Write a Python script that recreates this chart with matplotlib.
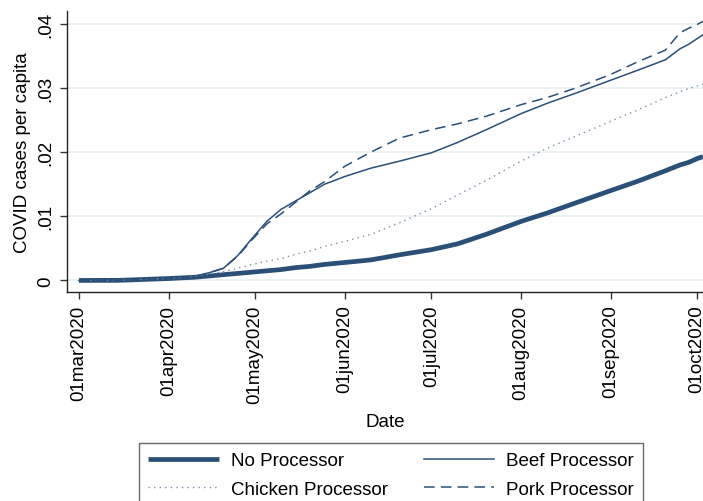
import matplotlib
matplotlib.use("Agg")
import matplotlib.pyplot as plt
import pandas as pd

plt.rcParams["font.family"] = ["Liberation Sans", "DejaVu Sans"]

# values
dates = [
    "2020-03-01", "2020-03-15", "2020-04-01", "2020-04-10", "2020-04-15",
    "2020-04-20", "2020-04-25", "2020-04-30", "2020-05-05", "2020-05-10",
    "2020-05-15", "2020-05-20", "2020-05-25", "2020-06-01", "2020-06-10",
    "2020-06-20", "2020-07-01", "2020-07-10", "2020-07-20", "2020-08-01",
    "2020-08-10", "2020-08-20", "2020-09-01", "2020-09-10", "2020-09-20",
    "2020-09-25", "2020-09-28", "2020-10-01", "2020-10-03",
]
no_processor = [
    0, 0.00002, 0.0003, 0.0005, 0.0007, 0.0009, 0.0011, 0.0013, 0.0015, 0.0017,
    0.0020, 0.0022, 0.0025, 0.0028, 0.0032, 0.0040, 0.0048, 0.0057, 0.0072, 0.0092,
    0.0105, 0.0121, 0.0140, 0.0154, 0.0171, 0.0180, 0.0184, 0.0190, 0.0193,
]
chicken = [
    0, 0.00002, 0.0003, 0.0006, 0.0010, 0.0014, 0.0019, 0.0025, 0.0030, 0.0034,
    0.0041, 0.0046, 0.0053, 0.0061, 0.0072, 0.0090, 0.0112, 0.0133, 0.0156, 0.0186,
    0.0206, 0.0225, 0.0248, 0.0265, 0.0285, 0.0294, 0.0299, 0.0303, 0.0306,
]
beef = [
    0, 0.00002, 0.0003, 0.0006, 0.0012, 0.0019, 0.0039, 0.0066, 0.0092, 0.0111,
    0.0124, 0.0137, 0.0150, 0.0162, 0.0175, 0.0186, 0.0199, 0.0215, 0.0235, 0.0260,
    0.0276, 0.0292, 0.0312, 0.0327, 0.0344, 0.0361, 0.0368, 0.0377, 0.0383,
]
pork = [
    0, 0.00002, 0.0003, 0.0006, 0.0012, 0.0019, 0.0038, 0.0064, 0.0088, 0.0104,
    0.0122, 0.0140, 0.0154, 0.0178, 0.0200, 0.0222, 0.0235, 0.0244, 0.0256, 0.0274,
    0.0285, 0.0300, 0.0321, 0.0340, 0.0359, 0.0386, 0.0393, 0.0399, 0.0404,
]
tick_dates = [
    "2020-03-01", "2020-04-01", "2020-05-01", "2020-06-01",
    "2020-07-01", "2020-08-01", "2020-09-01", "2020-10-01",
]
tick_labels = [
    "01mar2020", "01apr2020", "01may2020", "01jun2020",
    "01jul2020", "01aug2020", "01sep2020", "01oct2020",
]
y_ticks = [0, 0.01, 0.02, 0.03, 0.04]
y_labels = ["0", ".01", ".02", ".03", ".04"]

NAVY = "#2a5077"

x = pd.to_datetime(dates)

fig = plt.figure(figsize=(7.03, 5.02), dpi=100)
ax = fig.add_axes([67 / 703, 1 - 293 / 502, 1 - 67 / 703, (293 - 12) / 502])

for yt in y_ticks:
    ax.axhline(yt, color="#e8f0f0", lw=1.2, zorder=0)

ax.plot(x, no_processor, color=NAVY, lw=3.4, label="No Processor", solid_capstyle="butt")
ax.plot(x, beef, color=NAVY, lw=1.1, label="Beef Processor")
ax.plot(x, chicken, color="#7890ae", lw=1.0, linestyle=(0, (1, 3)),
        label="Chicken Processor")
ax.plot(x, pork, color=NAVY, lw=1.1, linestyle=(0, (7, 4)), label="Pork Processor")

ax.set_xlim(pd.Timestamp("2020-03-01") - pd.Timedelta(days=4.15),
            pd.Timestamp("2020-10-03"))
ax.set_ylim(-0.0018, 0.0420)

ax.set_xticks(pd.to_datetime(tick_dates))
ax.set_xticklabels(tick_labels, rotation=90, fontsize=13.5)
ax.set_yticks(y_ticks)
ax.set_yticklabels(y_labels, rotation=90, va="center", fontsize=13.5)
ax.tick_params(direction="out", length=5, width=1, color="#333333", pad=4)

ax.set_xlabel("Date", fontsize=13.5, labelpad=7)
ax.set_ylabel("COVID cases per capita", fontsize=13.5, labelpad=5)

for side in ("top", "right"):
    ax.spines[side].set_visible(False)
for side in ("left", "bottom"):
    ax.spines[side].set_color("#222222")
    ax.spines[side].set_linewidth(1)

handles, labels = ax.get_legend_handles_labels()
order = [0, 2, 1, 3]
leg = fig.legend(
    [handles[i] for i in order], [labels[i] for i in order],
    ncol=2, loc="upper left", bbox_to_anchor=(139 / 703, 1 - 444 / 502),
    fontsize=13.5, frameon=True, fancybox=False, edgecolor="#444444",
    handlelength=3.75, handletextpad=0.65, columnspacing=1.9,
    labelspacing=0.6, borderpad=0.5, borderaxespad=0,
)
leg.get_frame().set_linewidth(1)

fig.savefig("out.png", dpi=100)
